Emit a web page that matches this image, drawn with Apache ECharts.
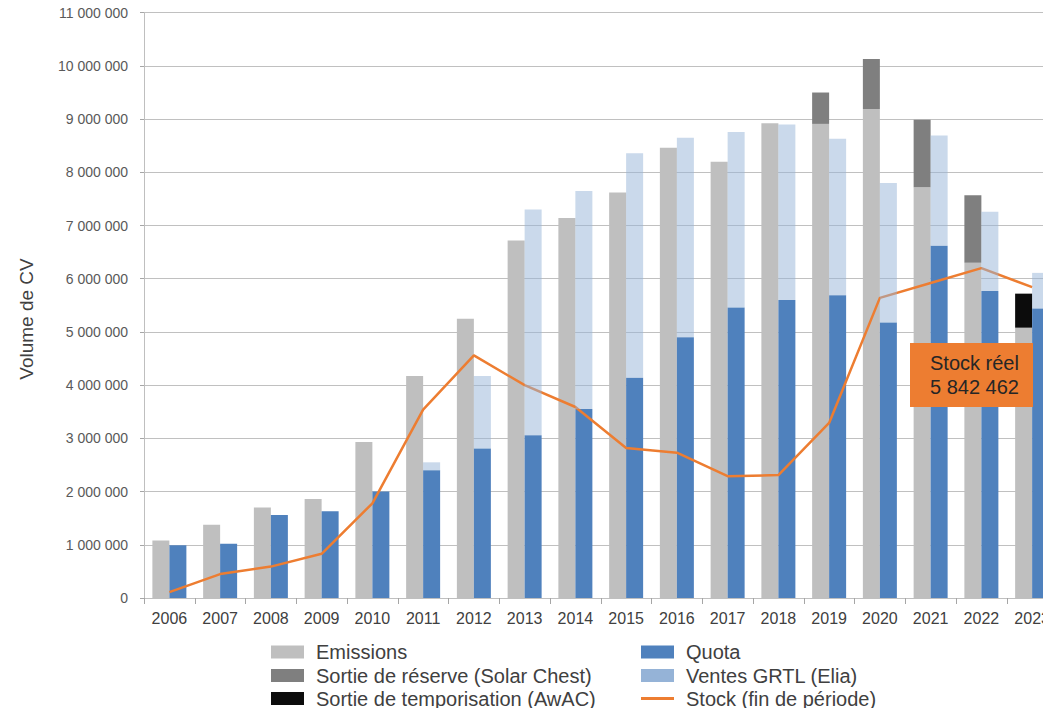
<!DOCTYPE html>
<html>
<head>
<meta charset="utf-8">
<script src="https://cdn.jsdelivr.net/npm/echarts@6/dist/echarts.min.js"></script>
<style>
  html, body { margin: 0; padding: 0; background: #ffffff; }
  #chart { width: 1043px; height: 708px; }
</style>
</head>
<body>
<div id="chart"></div>
<script>
// Years on the category axis
const years = ['2006','2007','2008','2009','2010','2011','2012','2013','2014','2015','2016','2017','2018','2019','2020','2021','2022','2023'];

// Left stack: certificates surrendered / withdrawn
const emissions      = [1080000,1375000,1700000,1860000,2930000,4170000,5250000,6720000,7140000,7620000,8460000,8200000,8920000,8910000,9190000,7720000,6300000,5080000];
const sortieReserve  = [0,0,0,0,0,0,0,0,0,0,0,0,0,590000,940000,1270000,1270000,0];
const sortieTempo    = [0,0,0,0,0,0,0,0,0,0,0,0,0,0,0,0,0,640000];

// Right stack: quota and GRTL sales
const quota          = [990000,1020000,1560000,1630000,2000000,2400000,2810000,3060000,3550000,4140000,4900000,5460000,5600000,5690000,5180000,6620000,5770000,5440000];
const ventesGRTL     = [0,0,0,0,0,150000,1360000,4240000,4100000,4220000,3750000,3300000,3300000,2940000,2620000,2070000,1490000,670000];

// End-of-period stock
const stock          = [110000,450000,590000,830000,1780000,3540000,4560000,4000000,3590000,2820000,2730000,2290000,2310000,3290000,5640000,5920000,6200000,5842462];

// Annotation text
const stockLabel = ['Stock réel', '5 842 462'];

// Legend entries, in two columns of three rows
const legendLeftCol  = ['Emissions', 'Sortie de réserve (Solar Chest)', 'Sortie de temporisation (AwAC)'];
const legendRightCol = ['Quota', 'Ventes GRTL (Elia)', 'Stock (fin de période)'];

const fmt = v => String(v).replace(/\B(?=(\d{3})+(?!\d))/g, ' ');

const chart = echarts.init(document.getElementById('chart'), null, { renderer: 'svg' });

const FONT = '"Liberation Sans", Arial, sans-serif';
const legendText = { fontFamily: FONT, fontSize: 20, color: '#404040', lineHeight: 18, padding: [0, 0, 0, 7] };
const rowTops = [642, 665.5, 688.5];

function legendItem(name, left, top, extra, iconH) {
  const item = Object.assign({ name: name }, extra || {});
  return {
    orient: 'horizontal', left: left, top: top, padding: 0, itemGap: 0,
    itemWidth: 33, itemHeight: iconH || 13, textStyle: legendText, data: [item]
  };
}

const legends = [];
legendLeftCol.forEach((n, i) => legends.push(legendItem(n, 271, rowTops[i], { icon: 'rect' })));
legends.push(legendItem(legendRightCol[0], 641, rowTops[0], { icon: 'rect' }));
legends.push(legendItem(legendRightCol[1], 641, rowTops[1], { icon: 'rect', itemStyle: { opacity: 1, color: '#95B3D7' } }));
legends.push(legendItem(legendRightCol[2], 641, rowTops[2], { icon: 'rect', itemStyle: { color: '#ED7D31' } }, 3));

chart.setOption({
  animation: false,
  textStyle: { fontFamily: FONT },
  grid: { left: 144, top: 12.7, height: 585.3, width: 913.5, containLabel: false, outerBoundsMode: 'none' },
  xAxis: {
    type: 'category',
    data: years,
    axisLine: { lineStyle: { color: '#bfbfbf', width: 1 } },
    axisTick: { show: true, length: 6, lineStyle: { color: '#a6a6a6' } },
    axisLabel: { interval: 0, fontSize: 16, color: '#404040', margin: 12, fontFamily: FONT, hideOverlap: false }
  },
  yAxis: {
    type: 'value',
    min: 0,
    max: 11000000,
    interval: 1000000,
    axisLine: { show: true, lineStyle: { color: '#bfbfbf', width: 1 } },
    axisTick: { show: true, length: 4, lineStyle: { color: '#a6a6a6' } },
    splitLine: { lineStyle: { color: '#c0c0c0', width: 1 } },
    axisLabel: { formatter: fmt, fontSize: 14, color: '#595959', margin: 16, fontFamily: FONT }
  },
  legend: legends,
  series: [
    { name: 'Emissions', type: 'bar', stack: 'out', data: emissions, barWidth: 17, barGap: '0%',
      itemStyle: { color: '#BFBFBF' }, z: 2 },
    { name: 'Sortie de réserve (Solar Chest)', type: 'bar', stack: 'out', data: sortieReserve, barWidth: 17, barGap: '0%',
      itemStyle: { color: '#7F7F7F' }, z: 2 },
    { name: 'Sortie de temporisation (AwAC)', type: 'bar', stack: 'out', data: sortieTempo, barWidth: 17, barGap: '0%',
      itemStyle: { color: '#0C0C0C' }, z: 2 },
    { name: 'Quota', type: 'bar', stack: 'in', data: quota, barWidth: 17, barGap: '0%',
      itemStyle: { color: '#4F81BD' }, z: 2 },
    { name: 'Ventes GRTL (Elia)', type: 'bar', stack: 'in', data: ventesGRTL, barWidth: 17, barGap: '0%',
      itemStyle: { color: '#95B3D7', opacity: 0.5 }, z: 4 },
    { name: 'Stock (fin de période)', type: 'line', data: stock, symbol: 'none',
      lineStyle: { color: '#ED7D31', width: 2.5 }, itemStyle: { color: '#ED7D31' }, z: 3 }
  ],
  graphic: [
    {
      type: 'text', x: 26, y: 319, rotation: Math.PI / 2, z: 100,
      style: { text: 'Volume de CV', fontSize: 19, fill: '#404040', fontFamily: FONT, align: 'center', verticalAlign: 'middle' }
    },
    {
      type: 'rect', z: 100,
      shape: { x: 910, y: 343, width: 123, height: 64 },
      style: { fill: '#ED7D31' }
    },
    {
      type: 'text', z: 101, x: 930, y: 351,
      style: { text: stockLabel.join('\n'), fontSize: 20, lineHeight: 24, fill: '#262626', fontFamily: FONT }
    }
  ]
});
</script>
</body>
</html>
